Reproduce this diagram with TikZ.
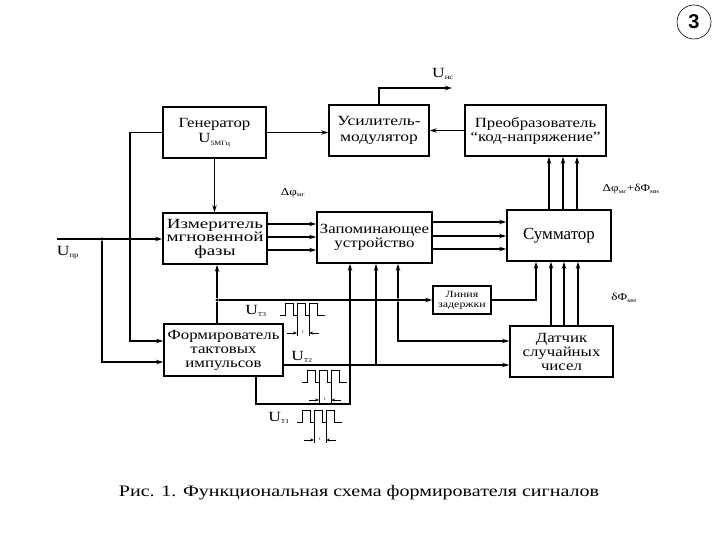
\documentclass[tikz,border=0pt]{standalone}
\usepackage{fontspec}
\setmainfont{Liberation Serif}
\newfontfamily\fA{Liberation Serif}[FakeStretch=1.2]
\newfontfamily\fB{Liberation Serif}[FakeStretch=1.25]
\newfontfamily\fC{Liberation Serif}[FakeStretch=1.36]
\newfontfamily\fE{Liberation Serif}[FakeStretch=1.25]
\newfontfamily\numfont{Liberation Sans}
\usetikzlibrary{arrows.meta}
\newcommand\mywave[2]{%
  \draw[line width=1pt] (#1,#2) -- ++(5,0) -- ++(0,-12) -- ++(8,0) -- ++(0,12) -- ++(4,0) -- ++(0,-12) -- ++(8,0) -- ++(0,12) -- ++(4,0) -- ++(0,-12) -- ++(8,0) -- ++(0,12) -- ++(8,0);
  \draw[line width=0.6pt] (#1+17,#2-12) -- ++(0,33) (#1+29,#2-12) -- ++(0,33);
  \draw[line width=0.6pt,-{Stealth[length=4pt,width=3pt]}] (#1+7,#2+18) -- (#1+17,#2+18);
  \draw[line width=0.6pt,-{Stealth[length=4pt,width=3pt]}] (#1+39,#2+18) -- (#1+29,#2+18);
  \node[font=\fontsize{5}{5}\selectfont,inner sep=0pt] at (#1+23,#2+17) {τ};}
\begin{document}
\begin{tikzpicture}[x=1pt,y=-1pt,
  blk/.style={draw,line width=1.8pt,align=center,inner sep=0pt},
  ln/.style={line width=1.5pt},
  arr/.style={ln,-{Stealth[length=7pt,width=4.5pt]}},
  dot/.style={circle,fill,inner sep=0pt,minimum size=3.5pt},
  lbl/.style={inner sep=0pt,font=\fE\fontsize{14}{14}\selectfont},
  sml/.style={inner sep=0pt,font=\fE\fontsize{10.5}{12}\selectfont}]
\useasboundingbox (0,0) rectangle (720,540);

\node[blk,minimum width=103,minimum height=51,font=\fA\fontsize{14}{15}\selectfont] (gen) at (214.5,132.5) {Генератор\\U\textsubscript{\fontsize{6.5}{6.5}\selectfont 5МГц}};
\node[blk,minimum width=100,minimum height=51,font=\fB\fontsize{14}{15.5}\selectfont] (usm) at (379,130.5) {Усилитель-\\модулятор};
\node[blk,minimum width=141,minimum height=51,font=\fA\fontsize{14}{14}\selectfont] (pre) at (535.5,130.5) {Преобразователь\\“код-напряжение”};
\node[blk,minimum width=104,minimum height=51,font=\fC\fontsize{14}{13.5}\selectfont] (izm) at (215,238.5) {Измеритель\\мгновенной\\фазы};
\node[blk,minimum width=115,minimum height=51,font=\fA\fontsize{14}{14}\selectfont] (zap) at (374.5,237.5) {Запоминающее\\устройство};
\node[blk,minimum width=104,minimum height=51,font=\fontsize{17}{18}\selectfont] (sum) at (559,235.5) {Сумматор};
\node[blk,minimum width=58,minimum height=28,font=\fE\fontsize{9.5}{10}\selectfont] (lin) at (462,300) {Линия\\задержки};
\node[blk,minimum width=103,minimum height=51,font=\fA\fontsize{14}{14}\selectfont] (dat) at (561.5,351.5) {Датчик\\случайных\\чисел};
\node[blk,minimum width=119,minimum height=52,font=\fA\fontsize{14}{14}\selectfont] (form) at (223.5,350) {Формирователь\\тактовых\\импульсов};

% top row
\draw[arr] (gen.east) -- (gen.east -| usm.west);
\coordinate (unc) at (452,88);
\draw[arr] (usm.north) |- (unc);
\node[lbl] (lunc) at (443,74) {U\textsubscript{\fontsize{7}{7}\selectfont нс}};
\draw[arr] (pre.west) -- (usm.east);
\foreach \x in {549,563,577} \draw[arr] (sum.north -| \x,0) -- (pre.south -| \x,0);
\node[sml] (ldf) at (631,189) {Δφ\textsubscript{\fontsize{6}{6}\selectfont мг}+δΦ\textsubscript{\fontsize{6}{6}\selectfont мн}};

% generator
\draw[arr] (gen.south) -- (gen.south |- izm.north);
\draw[arr] (gen.west) -- ++(-32,0) |- (form.west |- 0,341);

% input
\coordinate (upr) at (57,239);
\node[dot] (j1) at (102,239) {};
\draw[arr] (upr) -- (upr -| izm.west);
\draw[arr] (j1) |- (form.west |- 0,362);
\node[lbl] (lupr) at (68,253) {U\textsubscript{\fontsize{7}{7}\selectfont пр}};
\node[sml] (ldfm) at (293,193) {Δφ\textsubscript{\fontsize{6}{6}\selectfont мг}};

% middle row
\foreach \y in {224,237,250} \draw[arr] (izm.east |- 0,\y) -- (zap.west |- 0,\y);
\foreach \y in {222,236,249} \draw[arr] (zap.east |- 0,\y) -- (sum.west |- 0,\y);
\draw[arr] (lin.east) -| (sum.south -| 536,0);
\foreach \x in {551,564,578} \draw[arr] (dat.north -| \x,0) -- (sum.south -| \x,0);
\node[sml] (ldfn) at (624,298) {δΦ\textsubscript{\fontsize{6}{6}\selectfont мн}};

% clock T3
\node[dot] (j2) at (217,300) {};
\node[dot] (j3) at (398,300) {};
\draw[ln] (form.north -| j2) -- (j2);
\draw[arr] (j2) -- (izm.south -| j2);
\draw[arr] (j2) -- (lin.west);
\draw[arr] (j3) -- (zap.south -| j3);
\draw[arr] (j3) |- (dat.west |- 0,341);

% clock T2
\node[dot,minimum size=2.5pt] (j4) at (376,365) {};
\draw[arr] (form.east |- 0,365) -- (dat.west |- 0,365);
\draw[arr] (j4) -- (zap.south -| j4);

% clock T1
\draw[arr] (form.south -| 256,0) -- (256,404) -- (350,404) -- (zap.south -| 350,0);

% waveforms
\node[lbl] (lt3) at (256,311) {U\textsubscript{\fontsize{6}{6}\selectfont Т3}};
\mywave{280}{315}
\node[lbl] (lt2) at (302,357) {U\textsubscript{\fontsize{6}{6}\selectfont Т2}};
\mywave{302}{382}
\node[lbl] (lt1) at (279,418) {U\textsubscript{\fontsize{6}{6}\selectfont Т1}};
\mywave{297}{422}

% page number
\node[draw,circle,minimum size=34,line width=0.6pt,inner sep=0pt,font=\numfont\bfseries\fontsize{20}{20}\selectfont] (pg) at (694,22) {3};

% caption
\node[inner sep=0pt,font=\fE\fontsize{16}{18}\selectfont] (cap) at (359,493) {Рис. 1. Функциональная схема формирователя сигналов};
\end{tikzpicture}
\end{document}
